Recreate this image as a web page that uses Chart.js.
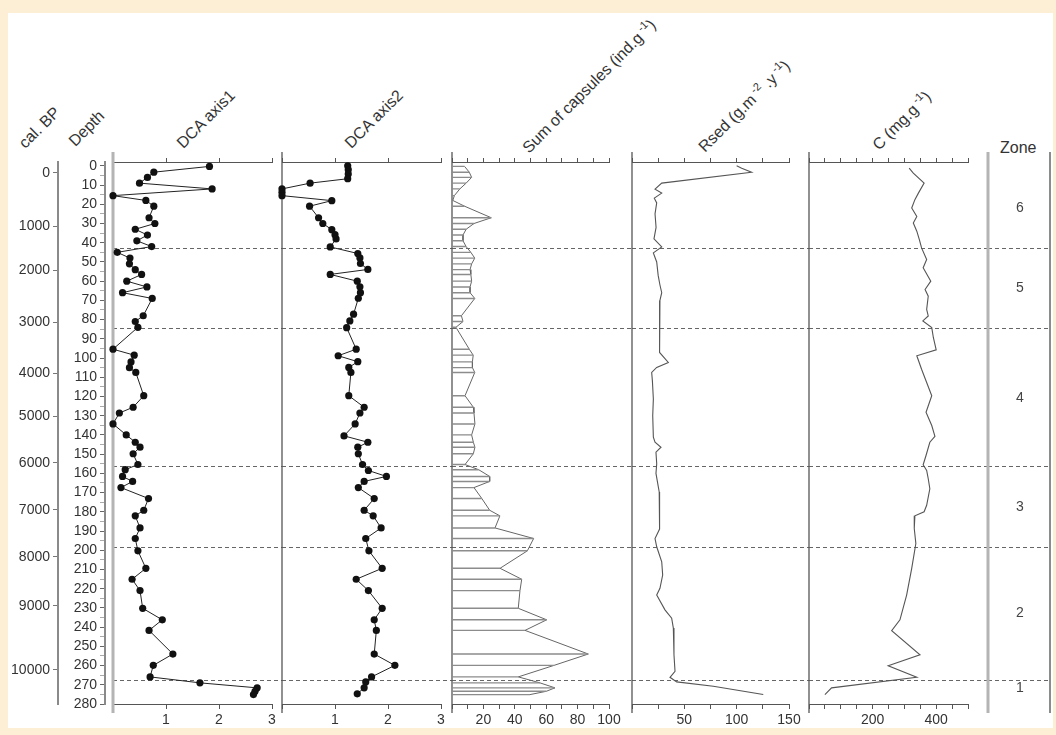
<!DOCTYPE html>
<html>
<head>
<meta charset="utf-8">
<script src="https://cdn.jsdelivr.net/npm/chart.js@4.4.0/dist/chart.umd.min.js"></script>
<style>
  body { margin: 0; background: #fcefd6; }
  #fig { position: relative; width: 1056px; height: 735px; overflow: hidden; background: #fcefd6; }
  #sheet { position: absolute; left: 8px; top: 13px; width: 1045px; height: 715px; background: #fff; }
  #fig canvas { position: absolute; top: 0; }
  .title {
    position: absolute; font-family: 'Liberation Sans', Arial, sans-serif; font-size: 16px;
    line-height: 18px; height: 18px; color: #333; white-space: nowrap;
    transform-origin: 0 100%; transform: rotate(-45deg);
  }
  .title sup { font-size: 11px; }
  .zone { position: absolute; font-family: 'Liberation Sans', Arial, sans-serif; font-size: 16px; color: #333; }
</style>
</head>
<body>
<div id="fig">
  <div id="sheet"></div>
  <div class="title" style="left:28px;top:134px">cal. BP</div>
  <div class="title" style="left:78px;top:132px">Depth</div>
  <div class="title" style="left:186px;top:134px">DCA axis1</div>
  <div class="title" style="left:354px;top:134px">DCA axis2</div>
  <div class="title" style="left:528px;top:135px">Sum of capsules (ind.g<sup>&nbsp;-1</sup>)</div>
  <div class="title" style="left:704px;top:134px">Rsed (g.m<sup>&nbsp;-2</sup>&nbsp;.y<sup>&nbsp;-1</sup>)</div>
  <div class="title" style="left:878px;top:132px">C (mg.g<sup>&nbsp;-1</sup>)</div>
  <div class="zone" style="left:1000px;top:139px">Zone</div>
</div>
<script>
// depth range of the core (cm), shared by every panel
const depthMin = -2;
const depthMax = 280;

// age-depth model: cal. BP tick labels and the depth they sit at
const ageLabels = ['0', '1000', '2000', '3000', '4000', '5000', '6000', '7000', '8000', '9000', '10000'];
const ageDepths = [3.7, 31.3, 54.2, 81.3, 107.8, 130.2, 154.6, 179, 203.5, 229, 262.3];

// zone boundaries (depth) and zone labels
const zoneBounds = [42.8, 84.4, 156.2, 198.3, 267.5];
const zoneNames = ['6', '5', '4', '3', '2', '1'];
const zoneMids = [22, 63.6, 120.8, 177.5, 232.6, 271.6];

// DCA axis 1
const dca1Depth = [0.3, 3.3, 6, 9, 12, 15.5, 18, 21, 27, 30, 33, 36, 39, 42, 45, 48, 51, 54, 56.5, 60,
  63, 66, 69, 78, 81, 84, 95.4, 98.5, 102, 105, 107.5, 119.6, 125.6, 128.6, 134.3, 140, 143.8, 146.4,
  149.8, 155.4, 158.1, 161.6, 164.2, 167.4, 173.1, 179.2, 182.1, 188.4, 193.9, 200.3, 209.4, 215.1,
  221, 230.2, 236.2, 241.7, 254, 259.9, 265.9, 269, 271.6, 273.4, 275.1];
const dca1 = [1.82, 0.77, 0.65, 0.50, 1.87, 0, 0.62, 0.77, 0.68, 0.79, 0.42, 0.65, 0.45, 0.73, 0.08,
  0.32, 0.31, 0.42, 0.54, 0.26, 0.64, 0.18, 0.74, 0.57, 0.42, 0.47, 0, 0.40, 0.34, 0.31, 0.43, 0.58,
  0.38, 0.12, 0, 0.25, 0.42, 0.51, 0.38, 0.47, 0.23, 0.18, 0.37, 0.15, 0.67, 0.58, 0.42, 0.51, 0.42,
  0.47, 0.62, 0.36, 0.51, 0.56, 0.93, 0.68, 1.13, 0.76, 0.70, 1.64, 2.72, 2.68, 2.65];

// DCA axis 2
const dca2Depth = [0, 2, 4.3, 6.7, 9, 12, 13.8, 15.5, 18.1, 21, 27, 30, 33.2, 35.8, 38, 42.2, 45.6,
  47.9, 50.8, 53.9, 56.5, 60, 62.9, 66, 68.9, 77.2, 80.7, 84.2, 95.4, 98.8, 101.9, 104.9, 107.5, 119.6,
  125.6, 128.6, 134.3, 140.5, 143.8, 146.4, 149.8, 155.4, 158.5, 161.6, 164.2, 167.4, 173.1, 179.2,
  182.1, 188.4, 193.9, 200.3, 209.4, 215.1, 221, 230.2, 236.2, 241.7, 254, 259.9, 265.9, 268.5,
  271.6, 274.7];
const dca2 = [1.24, 1.25, 1.25, 1.24, 0.53, 0, 0, 0, 0.94, 0.52, 0.69, 0.77, 0.94, 1.0, 1.02, 0.91,
  1.43, 1.47, 1.48, 1.62, 0.91, 1.42, 1.47, 1.48, 1.44, 1.35, 1.28, 1.22, 1.40, 1.06, 1.43, 1.26,
  1.30, 1.26, 1.55, 1.47, 1.38, 1.17, 1.62, 1.43, 1.44, 1.52, 1.63, 1.97, 1.55, 1.44, 1.74, 1.55,
  1.72, 1.87, 1.58, 1.64, 1.89, 1.40, 1.63, 1.89, 1.74, 1.78, 1.74, 2.13, 1.69, 1.58, 1.55, 1.42];

// Sum of capsules (ind.g-1), same samples as DCA axis 1
const capsules = [8, 11, 12.5, 9, 5, 1.5, 0.5, 8, 25, 14, 9, 7, 7, 9, 12, 14.5, 12.5, 11.5, 12, 12.5,
  11.5, 11.5, 14.5, 6, 7, 2.5, 11, 13.5, 13, 13, 14.5, 8.3, 13.6, 14, 14.6, 12.5, 13.6, 14.6, 13.6,
  8.3, 17, 24, 24, 14, 19, 24, 30.5, 27.4, 52, 48, 30.6, 44.4, 43.3, 42.2, 60.3, 46.5, 86.8, 65, 42.2,
  56, 65.6, 60, 49.7];

// Rsed (g.m-2.y-1)
const rsedDepth = [0, 1.2, 3.3, 9, 12.1, 14.2, 16.8, 19.3, 25, 32, 38, 42.2, 45.3, 50, 57, 62, 66, 70,
  83.3, 97.1, 102.3, 104.9, 107.5, 112, 121.3, 130, 141.2, 143.8, 146.4, 149, 155, 160, 169.7, 183.5,
  189, 193.9, 198.2, 206, 212.9, 219.8, 223.3, 231, 235.4, 240.5, 254.4, 263, 266.1, 268.5, 270.8, 275.1];
const rsed = [100, 104.8, 114.3, 28.4, 22, 28.4, 21.3, 23.6, 22, 23, 21, 28.4, 20.4, 23.6, 25, 26.7,
  28.4, 26.7, 26.7, 26, 34.7, 23.6, 18.8, 19.5, 20.4, 19.8, 20.4, 22, 27.7, 22.9, 23.6, 22.9, 26, 26.7,
  26, 22, 23.6, 28.4, 29.3, 26.7, 23.6, 31.5, 37.9, 39.5, 40.1, 41.1, 36.3, 42.7, 77.7, 125.4];

// C (mg.g-1)
const carbonDepth = [1.2, 3.8, 9, 14.2, 17.6, 21.9, 26.3, 29.7, 34, 38.4, 42.7, 48.7, 53, 60, 64.3, 67.8,
  74.7, 78.1, 80.7, 84.2, 89.3, 95.7, 98.8, 105.8, 112.7, 119.6, 128.2, 135.1, 140.7, 143.8, 150.7,
  155.5, 158.5, 162.8, 168, 176.6, 180, 182.1, 188.7, 196.5, 209.4, 223.3, 236.2, 241.9, 254.4, 260.1,
  266.1, 271.6, 275.1];
const carbon = [315, 328, 362, 344, 333, 323, 339, 328, 339, 347, 354, 370, 359, 383, 365, 375, 370, 375,
  358, 386, 391, 400, 339, 354, 370, 386, 368, 386, 396, 380, 368, 359, 370, 375, 380, 370, 362, 333,
  331, 336, 323, 307, 286, 260, 349, 249, 339, 71, 50];

Chart.defaults.font.family = "'Liberation Sans', Arial, sans-serif";
Chart.defaults.font.size = 14;
Chart.defaults.color = '#333';

const fig = document.getElementById('fig');

const pts = (xs, ys) => xs.map((v, i) => ({x: v, y: ys[i]}));

// horizontal line from the axis to each sample value, broken by nulls
const barLines = (xs, ys) => {
    const out = [];
    xs.forEach((v, i) => {
        out.push({x: 0, y: ys[i]}, {x: v, y: ys[i]}, {x: null, y: null});
    });
    return out;
};

const tickList = (min, max, step) => {
    const t = [];
    for (let v = min; v <= max + 1e-9; v += step) t.push({value: Math.round(v * 1000) / 1000});
    return t;
};

// dashed zone boundaries across the panel
const zonePlugin = {
    id: 'zones',
    beforeDatasetsDraw(chart, args, opts) {
        const y = chart.scales.y;
        const a = chart.chartArea;
        const ctx = chart.ctx;
        ctx.save();
        ctx.strokeStyle = '#666';
        ctx.lineWidth = 1.2;
        ctx.setLineDash([4, 3]);
        zoneBounds.forEach(b => {
            const py = Math.round(y.getPixelForValue(b)) + 0.5;
            ctx.beginPath();
            ctx.moveTo(a.left, py);
            ctx.lineTo(chart.width - (opts.endInset || 0), py);
            ctx.stroke();
        });
        ctx.restore();
    }
};

// panel vertical rules, a little longer than the plot area
const framePlugin = {
    id: 'frame',
    beforeDatasetsDraw(chart, args, opts) {
        const a = chart.chartArea;
        const ctx = chart.ctx;
        (opts.lines || []).forEach(l => {
            const x = l.at === 'right' ? a.right : a.left;
            ctx.save();
            ctx.strokeStyle = l.color;
            ctx.lineWidth = l.width;
            ctx.beginPath();
            ctx.moveTo(x, a.top - 10);
            ctx.lineTo(x, a.bottom + 9);
            ctx.stroke();
            ctx.restore();
        });
    }
};

const addCanvas = function(left, width) {
    const cv = document.createElement('canvas');
    cv.width = width;
    cv.height = 735;
    cv.style.left = left + 'px';
    fig.appendChild(cv);
    return cv;
};

/**
 * One strip of the diagram: own x scale, shared depth scale.
 */
const panel = function({left, axisEnd, nextLeft, xMin, xMax, step, shown, datasets, frame}) {
    const pad = 12;
    const cv = addCanvas(left - pad, nextLeft - left + pad);
    const ticks = () => tickList(xMin, xMax, step);

    new Chart(cv, {
        type: 'scatter',
        data: {datasets: datasets},
        plugins: [zonePlugin, framePlugin],
        options: {
            responsive: false,
            animation: false,
            devicePixelRatio: 1,
            events: [],
            layout: {padding: {left: pad, right: nextLeft - axisEnd, top: 158, bottom: 5}},
            plugins: {
                legend: {display: false},
                tooltip: {enabled: false},
                frame: {lines: [{color: frame.color, width: frame.width}]}
            },
            scales: {
                x: {
                    type: 'linear', position: 'top', min: xMin, max: xMax,
                    afterBuildTicks: s => { s.ticks = ticks(); },
                    afterFit: s => { s.height = 4; },
                    ticks: {display: false},
                    grid: {drawOnChartArea: false, tickLength: 4, color: '#555'},
                    border: {color: '#555', width: 1}
                },
                x2: {
                    type: 'linear', position: 'bottom', min: xMin, max: xMax,
                    afterBuildTicks: s => { s.ticks = ticks(); },
                    afterFit: s => { s.height = 26; },
                    ticks: {
                        autoSkip: false, maxRotation: 0, padding: 3,
                        callback: v => shown.includes(v) ? String(v) : ''
                    },
                    grid: {drawOnChartArea: false, tickLength: 5, color: '#555'},
                    border: {color: '#555', width: 1}
                },
                y: {type: 'linear', min: depthMin, max: depthMax, reverse: true, display: false}
            }
        }
    });
};

// cal. BP and depth axes
const axisCanvas = addCanvas(0, 113);
new Chart(axisCanvas, {
    type: 'scatter',
    data: {datasets: []},
    options: {
        responsive: false,
        animation: false,
        devicePixelRatio: 1,
        events: [],
        layout: {padding: {left: 0, right: 0, top: 162, bottom: 31}},
        plugins: {legend: {display: false}, tooltip: {enabled: false}},
        scales: {
            x: {type: 'linear', min: 0, max: 1, display: false},
            age: {
                type: 'linear', axis: 'y', position: 'left', weight: 1,
                min: depthMin, max: depthMax, reverse: true,
                afterBuildTicks: s => { s.ticks = ageDepths.map(v => ({value: v})); },
                afterFit: s => { s.width = 58; s.paddingTop = 0; s.paddingBottom = 0; },
                ticks: {autoSkip: false, padding: 3, callback: (v, i) => ageLabels[i]},
                grid: {drawOnChartArea: false, tickLength: 5, color: '#777'},
                border: {color: '#8a8a8a', width: 2}
            },
            y: {
                type: 'linear', position: 'left', weight: 0,
                min: depthMin, max: depthMax, reverse: true,
                afterBuildTicks: s => { s.ticks = tickList(0, 280, 5); },
                afterFit: s => { s.width = 47; s.paddingTop = 0; s.paddingBottom = 0; },
                ticks: {autoSkip: false, padding: 3, callback: v => v % 10 === 0 ? String(v) : ''},
                grid: {
                    drawOnChartArea: false, tickLength: 5,
                    tickColor: c => c.tick && c.tick.value % 10 === 0 ? '#666' : '#aaa'
                },
                border: {color: '#8a8a8a', width: 2}
            }
        }
    }
});

const dotStyle = {
    showLine: true, borderColor: '#222', borderWidth: 1, pointRadius: 3.6,
    pointBackgroundColor: '#111', pointBorderWidth: 0, clip: 8
};

panel({
    left: 113, axisEnd: 272, nextLeft: 282, xMin: 0, xMax: 3, step: 1, shown: [1, 2, 3],
    frame: {color: '#b4b4b4', width: 3},
    datasets: [Object.assign({data: pts(dca1, dca1Depth)}, dotStyle)]
});

panel({
    left: 282, axisEnd: 441, nextLeft: 452, xMin: 0, xMax: 3, step: 1, shown: [1, 2, 3],
    frame: {color: '#555', width: 1.3},
    datasets: [Object.assign({data: pts(dca2, dca2Depth)}, dotStyle)]
});

panel({
    left: 452, axisEnd: 609, nextLeft: 632, xMin: 0, xMax: 100, step: 10, shown: [20, 40, 60, 80, 100],
    frame: {color: '#555', width: 1.3},
    datasets: [
        {data: barLines(capsules, dca1Depth), showLine: true, spanGaps: false, borderColor: '#8c8c8c', borderWidth: 1.4, pointRadius: 0, clip: 4},
        {data: pts(capsules, dca1Depth), showLine: true, borderColor: '#666', borderWidth: 1, pointRadius: 0, clip: 4}
    ]
});

panel({
    left: 632, axisEnd: 789, nextLeft: 809, xMin: 0, xMax: 150, step: 25, shown: [50, 100, 150],
    frame: {color: '#555', width: 1.3},
    datasets: [{data: pts(rsed, rsedDepth), showLine: true, borderColor: '#555', borderWidth: 1.1, pointRadius: 0, clip: 4}]
});

panel({
    left: 809, axisEnd: 968, nextLeft: 988, xMin: 0, xMax: 500, step: 50, shown: [200, 400],
    frame: {color: '#555', width: 1.3},
    datasets: [{data: pts(carbon, carbonDepth), showLine: true, borderColor: '#555', borderWidth: 1.1, pointRadius: 0, clip: 4}]
});

// zone column
const zoneCanvas = addCanvas(976, 80);
new Chart(zoneCanvas, {
    type: 'scatter',
    data: {datasets: []},
    plugins: [zonePlugin, framePlugin],
    options: {
        responsive: false,
        animation: false,
        devicePixelRatio: 1,
        events: [],
        layout: {padding: {left: 12, right: 6, top: 162, bottom: 31}},
        plugins: {
            legend: {display: false},
            tooltip: {enabled: false},
            zones: {endInset: 5},
            frame: {lines: [{color: '#b4b4b4', width: 3}, {at: 'right', color: '#666', width: 1.5}]}
        },
        scales: {
            x: {type: 'linear', min: 0, max: 1, display: false},
            y: {
                type: 'linear', position: 'left', min: depthMin, max: depthMax, reverse: true,
                afterBuildTicks: s => { s.ticks = zoneMids.map(v => ({value: v})); },
                afterFit: s => { s.width = 0; s.paddingTop = 0; s.paddingBottom = 0; },
                ticks: {autoSkip: false, mirror: true, padding: 28, crossAlign: 'center', color: '#444',
                    callback: (v, i) => zoneNames[i]},
                grid: {display: false, drawTicks: false},
                border: {display: false}
            }
        }
    }
});
</script>
</body>
</html>
